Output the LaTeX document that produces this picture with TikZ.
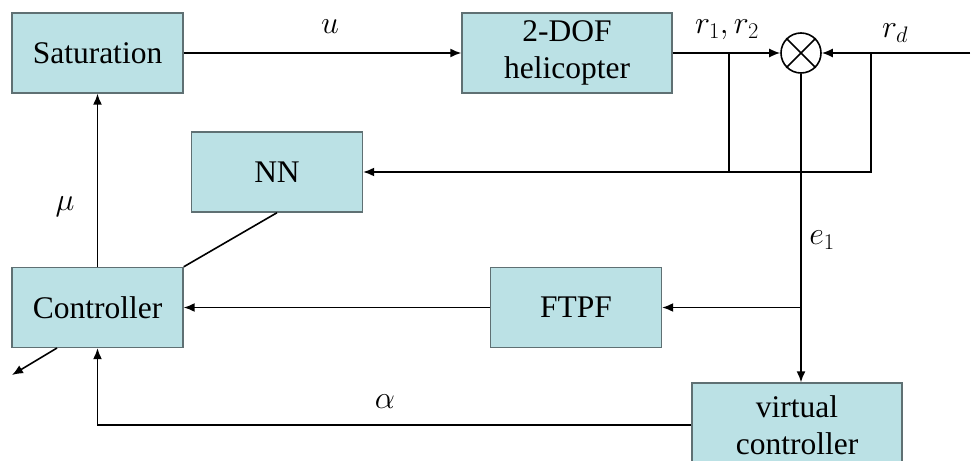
\RequirePackage{fix-cm}
\documentclass[tikz,border=0pt]{standalone}
\usepackage{fontspec}
\setmainfont{Liberation Serif}
\usetikzlibrary{arrows.meta}
\definecolor{boxfill}{RGB}{187,225,229}
\definecolor{boxdraw}{RGB}{95,112,115}
\tikzset{
  blk/.style={draw=boxdraw, fill=boxfill, line width=1.4pt, minimum width=171pt, minimum height=80pt, inner sep=0pt, align=center, font=\fontsize{31.5}{37}\selectfont},
  arr/.style={line width=1.6pt, -{Latex[length=11pt,width=9pt]}},
  ln/.style={line width=1.6pt},
  lbl/.style={font=\fontsize{32}{38}\selectfont, inner sep=0pt}
}
\begin{document}
\begin{tikzpicture}[x=1pt,y=-1pt]
\useasboundingbox (0,0) rectangle (973,460);
\clip (0,0) rectangle (973,460);
\node[blk] (sat) at (97.5,53) {Saturation};
\node[blk, minimum width=210pt] (heli) at (567,53) {2-DOF\\helicopter};
\node[blk] (nn) at (277,172) {NN};
\node[blk] (ctrl) at (97.5,307.5) {Controller};
\node[blk] (ftpf) at (576,307.5) {FTPF};
\node[blk, minimum width=210pt, minimum height=84pt] (vc) at (797,425) {virtual\\controller};
\node[draw, circle, line width=1.6pt, minimum size=40pt, inner sep=0pt] (sum) at (801,53) {};
\draw[ln] (sum.north west) -- (sum.south east);
\draw[ln] (sum.north east) -- (sum.south west);
\coordinate (bl) at (729,53);
\coordinate (br) at (871,53);
\coordinate (rin) at (970,53);
\coordinate (ej) at (801,307.5);
\coordinate (out) at (12,375);
\coordinate (cbl) at (57,348);
\draw[arr] (sat.east) -- (heli.west);
\draw[arr] (heli.east) -- (sum.west);
\draw[arr] (rin) -- (sum.east);
\draw[arr] (br) |- (nn.east);
\draw[ln] (bl) -- (bl |- nn.east);
\draw[arr] (sum.south) -- (sum.south |- vc.north);
\draw[arr] (ej) -- (ftpf.east);
\draw[arr] (ftpf.west) -- (ctrl.east);
\draw[arr] (vc.west) -| (ctrl.south);
\draw[arr] (ctrl.north) -- (sat.south);
\draw[ln] (nn.south) -- (ctrl.north east);
\draw[arr] (cbl) -- (out);
\node[lbl] (lu) at (330,27) {$u$};
\node[lbl] (lr) at (727,30) {$r_1,r_2$};
\node[lbl] (lrd) at (895,33) {$r_d$};
\node[lbl] (lmu) at (65,207) {$\mu$};
\node[lbl] (le) at (822,240) {$e_1$};
\node[lbl] (la) at (385,402) {$\alpha$};
\end{tikzpicture}
\end{document}
